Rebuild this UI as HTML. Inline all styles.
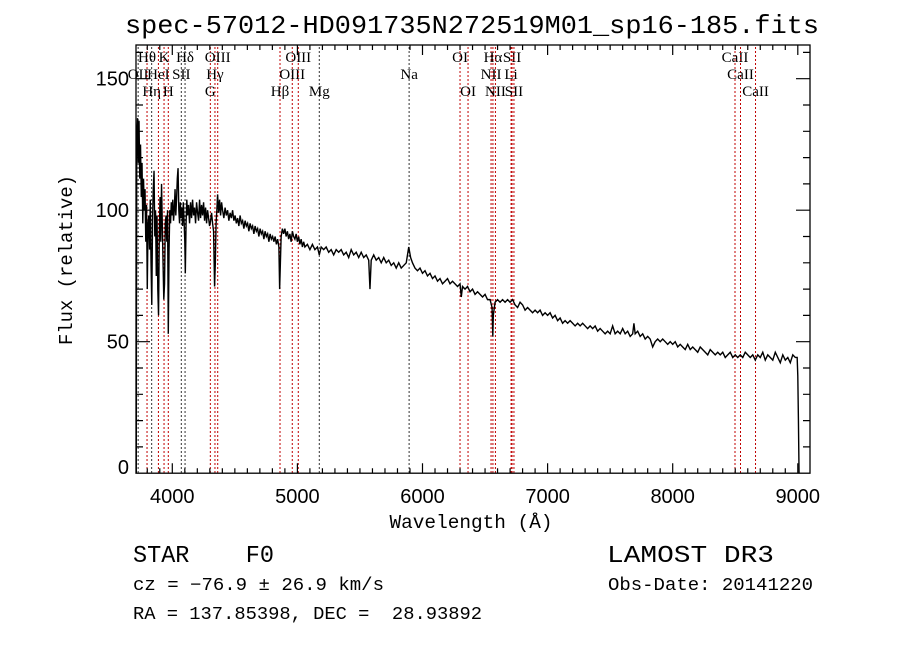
<!DOCTYPE html>
<html><head><meta charset="utf-8"><style>
html,body{margin:0;padding:0;background:#fff;}
svg{display:block;}
text{white-space:pre;}
</style></head><body>
<svg id="chart" width="900" height="649" viewBox="0 0 900 649" xmlns="http://www.w3.org/2000/svg" xml:space="preserve">
<rect x="0" y="0" width="900" height="649" fill="#fff"/>
<text x="472" y="33" text-anchor="middle" font-family="Liberation Mono, monospace" font-size="26" textLength="694" lengthAdjust="spacingAndGlyphs">spec-57012-HD091735N272519M01_sp16-185.fits</text>
<g id="lines"></g>
<g id="spec"></g>
<g id="axes"></g>
<text x="471" y="528" text-anchor="middle" font-family="Liberation Mono, monospace" font-size="19" textLength="163" lengthAdjust="spacingAndGlyphs">Wavelength (Å)</text>
<text transform="translate(72,260) rotate(-90)" text-anchor="middle" font-family="Liberation Mono, monospace" font-size="19" textLength="170" lengthAdjust="spacingAndGlyphs">Flux (relative)</text>
<text x="133" y="562" font-family="Liberation Mono, monospace" font-size="24" textLength="141" lengthAdjust="spacingAndGlyphs">STAR    F0</text>
<text x="607" y="562" font-family="Liberation Mono, monospace" font-size="24" textLength="167" lengthAdjust="spacingAndGlyphs">LAMOST DR3</text>
<text x="133" y="590" font-family="Liberation Mono, monospace" font-size="18" textLength="251" lengthAdjust="spacingAndGlyphs">cz = −76.9 ± 26.9 km/s</text>
<text x="608" y="590" font-family="Liberation Mono, monospace" font-size="18" textLength="205" lengthAdjust="spacingAndGlyphs">Obs-Date: 20141220</text>
<text x="133" y="619" font-family="Liberation Mono, monospace" font-size="18" textLength="349" lengthAdjust="spacingAndGlyphs">RA = 137.85398, DEC =  28.93892</text>
</svg>
<script>
const wavelengths=[3712,3713,3716,3722,3728,3734,3740,3746,3752,3758,3764,3770,3776,3782,3788,3794,3800,3806,3812,3818,3824,3830,3836,3842,3848,3854,3860,3866,3872,3878,3884,3890,3896,3902,3908,3914,3920,3926,3932,3938,3944,3950,3956,3962,3968,3974,3980,3986,3992,3998,4004,4010,4016,4022,4028,4034,4040,4046,4052,4058,4064,4070,4076,4082,4088,4094,4100,4104,4110,4116,4122,4130,4138,4146,4154,4162,4170,4178,4186,4194,4202,4210,4218,4226,4234,4242,4250,4258,4266,4274,4282,4290,4298,4306,4314,4322,4330,4338,4344,4350,4356,4362,4370,4378,4386,4394,4402,4412,4422,4432,4442,4452,4462,4472,4482,4492,4502,4512,4522,4532,4542,4552,4562,4572,4582,4592,4602,4612,4622,4632,4642,4652,4662,4672,4682,4692,4702,4712,4722,4732,4742,4752,4762,4772,4782,4792,4802,4812,4822,4832,4842,4852,4858,4864,4870,4880,4890,4900,4910,4920,4930,4940,4950,4960,4970,4980,4990,5000,5010,5020,5030,5040,5050,5060,5080,5100,5120,5140,5160,5175,5190,5210,5230,5250,5270,5290,5310,5330,5350,5370,5390,5410,5430,5450,5470,5490,5510,5530,5550,5570,5580,5590,5610,5630,5650,5670,5690,5710,5730,5750,5770,5790,5810,5830,5850,5870,5890,5905,5920,5940,5960,5980,6000,6020,6040,6060,6080,6100,6120,6140,6160,6180,6200,6220,6240,6260,6280,6300,6310,6320,6340,6360,6380,6400,6420,6440,6460,6480,6500,6520,6540,6556,6562,6566,6580,6600,6620,6640,6660,6680,6700,6720,6740,6760,6780,6800,6820,6840,6860,6880,6900,6920,6940,6960,6980,7000,7020,7040,7060,7080,7100,7120,7140,7160,7180,7200,7220,7240,7260,7280,7300,7320,7340,7360,7380,7400,7420,7440,7460,7480,7500,7520,7540,7560,7580,7600,7620,7640,7660,7680,7690,7700,7720,7740,7760,7780,7800,7820,7840,7860,7880,7900,7920,7940,7960,7980,8000,8020,8040,8060,8080,8100,8120,8140,8160,8180,8200,8220,8240,8260,8280,8300,8320,8340,8360,8380,8400,8420,8440,8460,8480,8500,8520,8540,8560,8580,8600,8620,8640,8660,8680,8700,8720,8740,8760,8780,8800,8820,8840,8860,8880,8900,8920,8940,8960,8980,8995,9000,9005,9010];
const flux=[0,56,128,135,118,134,112,125,105,118,95,112,100,108,88,102,70,95,98,85,104,80,64,96,108,115,90,100,75,98,70,60,90,105,88,110,95,80,66,72,95,98,88,100,53,85,100,95,103,98,104,96,100,108,98,104,112,116,100,95,103,97,101,94,103,96,88,76,95,104,98,102,95,103,97,104,98,101,95,103,99,96,104,97,102,98,103,96,101,95,100,97,94,96,99,95,92,71,80,95,100,106,99,104,98,103,100,97,101,98,100,96,99,97,100,96,98,95,97,94,98,95,96,93,96,94,95,92,95,93,94,91,94,92,93,90,93,91,92,89,92,90,91,88,91,89,90,88,90,87,89,86,70,80,90,93,91,93,90,92,89,91,88,92,90,89,91,88,90,87,89,86,88,86,87,85,87,85,86,83,86,85,86,84,85,83,85,84,85,83,84,82,85,83,84,82,84,82,83,81,70,81,83,81,82,80,82,80,81,79,80,78,80,78,79,80,86,82,80,78,77,78,76,77,75,76,74,75,73,74,72,73,74,72,73,72,71,72,67,71,70,71,69,70,68,69,68,67,68,66,66,63,52,60,65,66,65,66,65,66,65,66,64,63,65,64,62,63,62,61,62,61,62,60,61,60,61,59,60,58,59,57,58,57,58,57,56,57,56,57,56,55,56,55,56,54,55,54,53,54,53,56,53,54,53,55,53,54,52,53,57,53,54,52,53,51,52,51,48,50,51,50,51,50,49,50,49,50,48,49,48,47,49,47,48,47,46,48,47,46,45,47,46,45,46,45,46,44,45,46,44,45,44,45,44,46,45,44,45,43,45,44,46,43,45,44,43,46,44,42,45,43,44,42,45,44,44,37,20,0];
const xTicks=[4000,5000,6000,7000,8000,9000];
const yTicks=[0,50,100,150];
const lineWaves=[3727,3798,3835,3889,3934,3968,4072,4102,4304,4341,4363,4861,4959,5007,5175,5893,6300,6364,6548,6563,6583,6708,6716,6731,8498,8542,8662];
const lineLabels=["OII","Hθ","Hη","HeI","K","H","SII","Hδ","G","Hγ","OIII","Hβ","OIII","OIII","Mg","Na","OI","OI","NII","Hα","NII","Li","SII","SII","CaII","CaII","CaII"];
const lineRows=[1,0,2,1,0,2,1,0,2,1,0,2,1,0,2,1,0,2,1,0,2,1,0,2,0,1,2];
const lineColors=["#000","#c00","#000","#c00","#c00","#c00","#000","#000","#c00","#c00","#c00","#c00","#c00","#c00","#000","#000","#c00","#c00","#c00","#c00","#c00","#c00","#c00","#c00","#c00","#c00","#c00"];

const NS="http://www.w3.org/2000/svg";
const L=136,R=810,T=45,B=473.2;
const X=w=>172.3+(w-4000)*0.1251;
const Y=f=>B-f*2.63;
function mk(tag,attrs,parent){const e=document.createElementNS(NS,tag);for(const k in attrs)e.setAttribute(k,attrs[k]);parent.appendChild(e);return e;}

const lg=document.getElementById('lines');
lineWaves.forEach((w,i)=>{
  const l=mk('line',{x1:X(w),x2:X(w),y1:T+2,y2:B,stroke:lineColors[i]==="#000"?"#333":"#c00000","stroke-width":1,"stroke-dasharray":"2,2"},lg);
  
  
  const t=mk('text',{x:X(w),y:62+lineRows[i]*17,"text-anchor":"middle","font-family":"Liberation Serif, serif","font-size":15},lg);
  t.textContent=lineLabels[i];
  
  
});

const sg=document.getElementById('spec');
let d='';
wavelengths.forEach((w,i)=>{d+=(i?'L':'M')+X(w).toFixed(2)+','+Y(flux[i]).toFixed(2);});
const p=mk('path',{d:d,fill:"none",stroke:"#000","stroke-width":1.4,"stroke-linejoin":"miter"},sg);



const ag=document.getElementById('axes');
const fr=mk('rect',{x:L,y:T,width:R-L,height:B-T,fill:"none",stroke:"#000","stroke-width":1.3},ag);


let td='';
for(let w=3800;w<=9100;w+=100){const x=X(w);if(x<L||x>R)continue;const len=(w%1000===0)?10:5;td+='M'+x+','+B+'v'+(-len)+'M'+x+','+T+'v'+len;}
for(let f=10;f<=160;f+=10){const y=Y(f);if(y<T)continue;const len=(f%50===0)?14:7;td+='M'+L+','+y+'h'+len+'M'+R+','+y+'h'+(-len);}
const tk=mk('path',{d:td,stroke:"#000","stroke-width":1.2,fill:"none"},ag);


xTicks.forEach(v=>{const t=mk('text',{x:X(v),y:503,"text-anchor":"middle","font-family":"Liberation Sans, sans-serif","font-size":20},ag);t.textContent=v;
  
  });
yTicks.forEach(v=>{const t=mk('text',{x:129,y:Y(v)+7-(v===0?6:0),"text-anchor":"end","font-family":"Liberation Sans, sans-serif","font-size":20},ag);t.textContent=v;
  
  });
</script>
</body></html>
